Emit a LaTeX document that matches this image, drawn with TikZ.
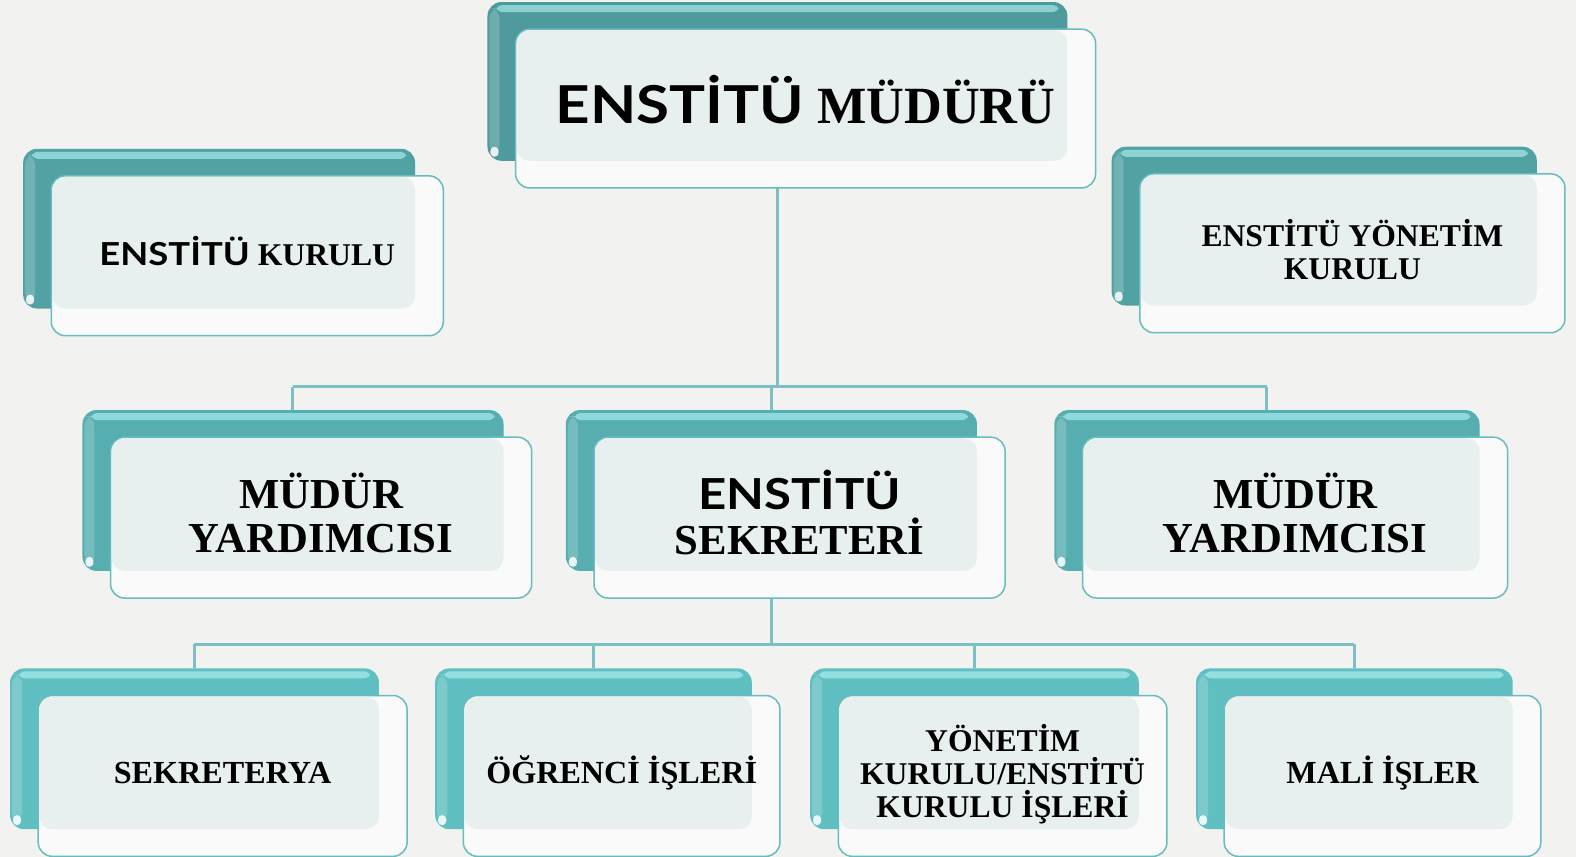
\documentclass[tikz,border=0pt]{standalone}
\usepackage{fontspec}
\setmainfont{Liberation Serif}
\newfontfamily\gillf{Lato}[FakeStretch=1.15]
\pgfdeclarelayer{bg}
\pgfsetlayers{bg,main}
\definecolor{bgc}{HTML}{F2F2F0}
\definecolor{connc}{HTML}{7DC0C4}
\definecolor{frontedge}{HTML}{68BCC0}
\definecolor{tintc}{HTML}{E7EFEF}
\definecolor{frontfill}{HTML}{F9FAF9}
\definecolor{tealA}{HTML}{4F9A9C}
\definecolor{tealB}{HTML}{52A2A4}
\definecolor{tealC}{HTML}{57AEB0}
\definecolor{tealD}{HTML}{60BFC1}
\definecolor{hic}{HTML}{B4F6F8}
\tikzset{
  backbox/.style={rounded corners=14pt, inner sep=0pt, outer sep=0pt},
  hilite/.style={fill=hic, opacity=0.6, rounded corners=5pt},
  frontbox/.style={draw=frontedge, line width=1.5pt, fill=frontfill, rounded corners=14pt, inner sep=0pt, outer sep=0pt},
  tint/.style={fill=tintc, rounded corners=13pt},
  conn/.style={draw=connc, line width=3pt},
  lbl/.style={align=center, inner sep=0pt, text=black}
}
% name, x, y, w, h, colour, font, text, text raise
\newcommand{\obox}[9]{%
  \node[backbox, fill=#6, minimum width=#4pt, minimum height=#5pt, anchor=north west] (#1b) at (#2,#3) {};
  \fill[hilite] ([xshift=9pt,yshift=-3pt]#1b.north west) rectangle ([xshift=-9pt,yshift=-10pt]#1b.north east);
  \fill[white, opacity=0.18, rounded corners=10pt] ([xshift=2pt,yshift=-6pt]#1b.north west) rectangle ([xshift=12pt,yshift=6pt]#1b.south west);
  \fill[white, opacity=0.85, rounded corners=4pt] ([xshift=3pt,yshift=4pt]#1b.south west) rectangle ([xshift=11pt,yshift=14pt]#1b.south west);
  \node[frontbox, minimum width=#4pt, minimum height=#5pt, anchor=north west] (#1) at ([xshift=28pt,yshift=-27pt]#1b.north west) {};
  \fill[tint] ([xshift=1pt,yshift=-1pt]#1.north west) rectangle (#1b.south east);
  \node[lbl, font=#7] (#1t) at ([yshift=#9pt]#1.center) {#8};
}
\begin{document}
\begin{tikzpicture}[x=1pt,y=-1pt]
\useasboundingbox (0,0) rectangle (1568,852.6);
\begin{pgfonlayer}{bg}
  \fill[bgc] (0,0) rectangle (1568,852.6);
\end{pgfonlayer}
\obox{top}{485}{2}{577}{158}{tealA}{\fontsize{52}{56}\selectfont\bfseries}{{\gillf ENSTİTÜ} MÜDÜRÜ}{9}
\obox{ek}{23}{148}{390}{159}{tealB}{\fontsize{31.5}{34}\selectfont\bfseries}{{\gillf ENSTİTÜ} KURULU}{5}
\obox{eyk}{1106}{146}{423}{158}{tealB}{\fontsize{31.5}{33}\selectfont\bfseries}{ENSTİTÜ YÖNETİM\\KURULU}{4}
\obox{ml}{82}{408}{419}{160}{tealC}{\fontsize{42.5}{44}\selectfont\bfseries}{MÜDÜR\\YARDIMCISI}{5}
\obox{sek}{563}{408}{409}{160}{tealC}{\fontsize{42.5}{44}\selectfont\bfseries}{{\gillf ENSTİTÜ}\\SEKRETERİ}{5}
\obox{mr}{1049}{408}{423}{160}{tealC}{\fontsize{42.5}{44}\selectfont\bfseries}{MÜDÜR\\YARDIMCISI}{5}
\obox{sy}{10}{665}{367}{160}{tealD}{\fontsize{32}{33}\selectfont\bfseries}{SEKRETERYA}{3}
\obox{og}{433}{665}{315}{160}{tealD}{\fontsize{32}{33}\selectfont\bfseries}{ÖĞRENCİ İŞLERİ}{3}
\obox{yk}{806}{665}{327}{160}{tealD}{\fontsize{31.5}{33}\selectfont\bfseries}{YÖNETİM\\KURULU/ENSTİTÜ\\KURULU İŞLERİ}{2}
\obox{mi}{1190}{665}{315}{160}{tealD}{\fontsize{32}{33}\selectfont\bfseries}{MALİ İŞLER}{3}
\coordinate (busA) at (0,385);
\coordinate (busB) at (0,641);
\begin{pgfonlayer}{bg}
  \draw[conn] (topb.center) -- (topb.center |- busA);
  \draw[conn] (mlb.north |- busA) -- (mrb.north |- busA);
  \draw[conn] (mlb.north |- busA) -- (mlb.north);
  \draw[conn] (sekb.north |- busA) -- (sekb.north);
  \draw[conn] (mrb.north |- busA) -- (mrb.north);
  \draw[conn] (sekb.center) -- (sekb.south |- busB);
  \draw[conn] (syb.north |- busB) -- (mib.north |- busB);
  \draw[conn] (syb.north |- busB) -- (syb.north);
  \draw[conn] (ogb.north |- busB) -- (ogb.north);
  \draw[conn] (ykb.north |- busB) -- (ykb.north);
  \draw[conn] (mib.north |- busB) -- (mib.north);
\end{pgfonlayer}
\end{tikzpicture}
\end{document}
